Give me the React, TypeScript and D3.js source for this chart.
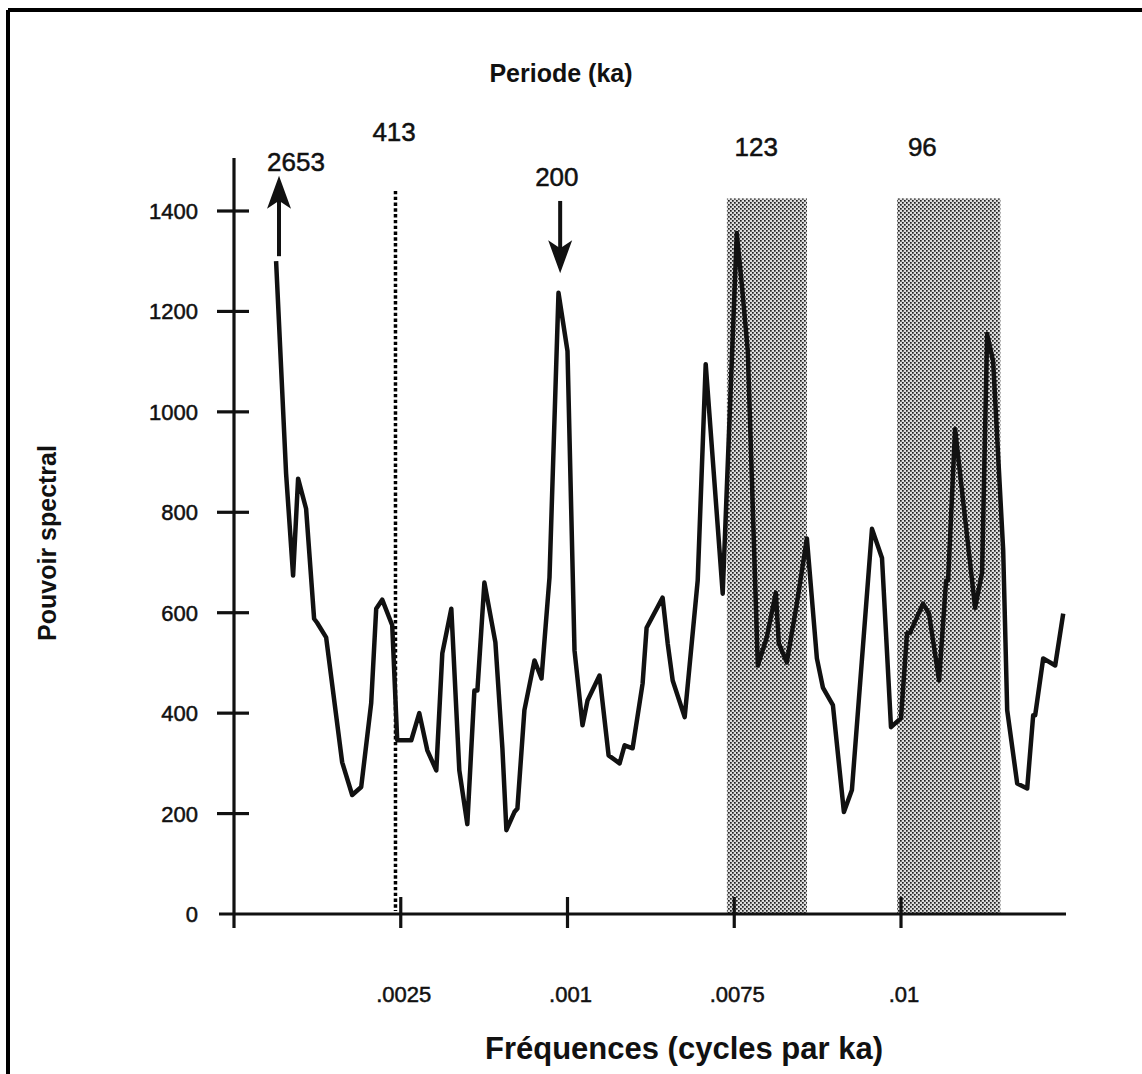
import React from "react";
import * as d3 from "d3";

// spectral power vs frequency (cycles per ka)
const freq = [
  0.000631, 0.000781, 0.000886, 0.000961, 0.001081, 0.001201, 0.001246, 0.001381,
  0.001622, 0.001772, 0.001907, 0.002057, 0.002132, 0.002222, 0.002372, 0.002447,
  0.002658, 0.002778, 0.002898, 0.003033, 0.003123, 0.003258, 0.003378, 0.003498,
  0.003604, 0.003649, 0.003754, 0.003919, 0.004024, 0.004084, 0.004204, 0.004249,
  0.004354, 0.004505, 0.004610, 0.004730, 0.004865, 0.005000, 0.005105, 0.005225,
  0.005300, 0.005480, 0.005616, 0.005781, 0.005856, 0.005976, 0.006126, 0.006186,
  0.006426, 0.006502, 0.006577, 0.006757, 0.006952, 0.007072, 0.007327, 0.007538,
  0.007613, 0.007703, 0.007853, 0.007988, 0.008123, 0.008168, 0.008288, 0.008438,
  0.008589, 0.008739, 0.008829, 0.008979, 0.009144, 0.009264, 0.009565, 0.009715,
  0.009850, 0.010000, 0.010090, 0.010135, 0.010330, 0.010420, 0.010571, 0.010676,
  0.010706, 0.010811, 0.010931, 0.011111, 0.011216, 0.011291, 0.011381, 0.011532,
  0.011592, 0.011742, 0.011892, 0.011982, 0.012012, 0.012132, 0.012312, 0.012432,
];
const power = [
  1300, 877, 674, 867, 807, 588, 580, 551,
  302, 237, 253, 420, 608, 626, 575, 346,
  346, 400, 326, 286, 519, 608, 286, 179,
  445, 445, 660, 541, 330, 167, 203, 210,
  406, 505, 469, 670, 1237, 1121, 525, 376,
  425, 475, 316, 300, 336, 330, 459, 570,
  630, 539, 465, 392, 664, 1095, 638, 1356,
  1254, 1121, 495, 551, 640, 539, 501, 618,
  748, 509, 451, 416, 203, 247, 767, 709,
  372, 390, 559, 560, 618, 598, 465, 664,
  664, 966, 823, 610, 680, 1155, 1101, 724,
  406, 260, 250, 396, 396, 509, 495, 598,
];

const yTicks = [0, 200, 400, 600, 800, 1000, 1200, 1400];
const xTicks = [0.0025, 0.005, 0.0075, 0.01];
const xTickLabels = [".0025", ".001", ".0075", ".01"];

const periodLabels = ["2653", "413", "200", "123", "96"];
const periodLabelFreq = [0.00093, 0.0024, 0.00484, 0.00783, 0.01032];
const periodLabelPower = [1480, 1540, 1450, 1510, 1510];

const bands = [
  [0.00739, 0.00859],
  [0.00994, 0.01149],
];
const bandTop = 1425;
const dottedFreq = 0.002421; // 1/413
const dottedTop = 1440;

const arrowUp = { f: 0.000675, from: 1310, to: 1470 };
const arrowDown = { f: 0.00489, from: 1420, to: 1276 };

export default function App() {
  const x = d3.scaleLinear().domain([0, 0.01]).range([234, 901]);
  const y = d3.scaleLinear().domain([0, 1400]).range([914, 211]);
  const pts = freq.map((f, i) => [f, power[i]] as [number, number]);
  const line = d3
    .line<[number, number]>()
    .x((d) => x(d[0]))
    .y((d) => y(d[1]));

  const arrowHead = (cx: number, tipY: number, dir: number) => {
    // dir = -1 up, +1 down
    const len = 33;
    const w = 12;
    const notch = 8;
    const baseY = tipY - dir * len;
    const notchY = baseY + dir * notch;
    return `M${cx},${tipY} L${cx - w},${baseY} L${cx},${notchY} L${cx + w},${baseY} Z`;
  };

  const font = "'Liberation Sans', Arial, Helvetica, sans-serif";
  const ink = "#111";

  return (
    <svg
      width={1142}
      height={1074}
      style={{ position: "absolute", left: 0, top: 0, background: "#fff" }}
      fontFamily={font}
    >
      <defs>
        <pattern id="dots" width={4} height={4} patternUnits="userSpaceOnUse">
          <rect width={4} height={4} fill="#dedede" />
          <rect x={0} y={0} width={1.7} height={1.7} fill="#222" />
          <rect x={2} y={2} width={1.7} height={1.7} fill="#222" />
        </pattern>
      </defs>
      <rect width={1142} height={1074} fill="#fff" />
      {/* frame */}
      <line x1={8} y1={10} x2={1142} y2={10} stroke="#000" strokeWidth={4} />
      <line x1={8} y1={10} x2={8} y2={1074} stroke="#000" strokeWidth={4} />

      {/* shaded bands */}
      {bands.map((b, i) => (
        <rect
          key={i}
          x={x(b[0])}
          y={y(bandTop)}
          width={x(b[1]) - x(b[0])}
          height={y(0) - y(bandTop)}
          fill="url(#dots)"
        />
      ))}

      {/* dotted 413 line */}
      <line
        x1={x(dottedFreq)}
        x2={x(dottedFreq)}
        y1={y(dottedTop)}
        y2={y(0) - 3}
        stroke="#000"
        strokeWidth={3.5}
        strokeDasharray="3.4 2.4"
      />

      {/* axes */}
      <line x1={219} x2={1066} y1={y(0)} y2={y(0)} stroke={ink} strokeWidth={3.2} />
      <line x1={x(0)} x2={x(0)} y1={158} y2={928} stroke={ink} strokeWidth={3.2} />
      {yTicks.slice(1).map((t) => (
        <line key={t} x1={217} x2={249} y1={y(t)} y2={y(t)} stroke={ink} strokeWidth={3.2} />
      ))}
      {xTicks.map((t) => (
        <line key={t} x1={x(t)} x2={x(t)} y1={897} y2={928} stroke={ink} strokeWidth={3.2} />
      ))}
      {yTicks.map((t) => (
        <text
          key={t}
          x={198}
          y={y(t) + 8}
          textAnchor="end"
          fontSize={22}
          fill={ink}
          stroke={ink}
          strokeWidth={0.5}
        >
          {t}
        </text>
      ))}
      {xTicks.map((t, i) => (
        <text
          key={t}
          x={x(t) + 3}
          y={1002}
          textAnchor="middle"
          fontSize={22}
          fill={ink}
          stroke={ink}
          strokeWidth={0.5}
        >
          {xTickLabels[i]}
        </text>
      ))}

      {/* curve */}
      <path
        d={line(pts) || ""}
        fill="none"
        stroke={ink}
        strokeWidth={4.5}
        strokeLinejoin="round"
      />

      {/* arrows */}
      <line
        x1={x(arrowUp.f)}
        x2={x(arrowUp.f)}
        y1={y(arrowUp.from)}
        y2={y(arrowUp.to) + 20}
        stroke={ink}
        strokeWidth={4}
      />
      <path d={arrowHead(x(arrowUp.f), y(arrowUp.to), -1)} fill={ink} />
      <line
        x1={x(arrowDown.f)}
        x2={x(arrowDown.f)}
        y1={y(arrowDown.from)}
        y2={y(arrowDown.to) - 20}
        stroke={ink}
        strokeWidth={4}
      />
      <path d={arrowHead(x(arrowDown.f), y(arrowDown.to), 1)} fill={ink} />

      {/* period labels */}
      {periodLabels.map((l, i) => (
        <text
          key={l}
          x={x(periodLabelFreq[i])}
          y={y(periodLabelPower[i])}
          textAnchor="middle"
          fontSize={26}
          fill={ink}
          stroke={ink}
          strokeWidth={0.5}
        >
          {l}
        </text>
      ))}

      {/* titles */}
      <text x={561} y={82} textAnchor="middle" fontSize={25} fontWeight="bold" fill={ink}>
        Periode (ka)
      </text>
      <text
        transform="translate(56,543) rotate(-90)"
        textAnchor="middle"
        fontSize={25}
        fontWeight="bold"
        fill={ink}
      >
        Pouvoir spectral
      </text>
      <text x={684} y={1059} textAnchor="middle" fontSize={31} fontWeight="bold" fill={ink}>
        Fréquences (cycles par ka)
      </text>
    </svg>
  );
}
